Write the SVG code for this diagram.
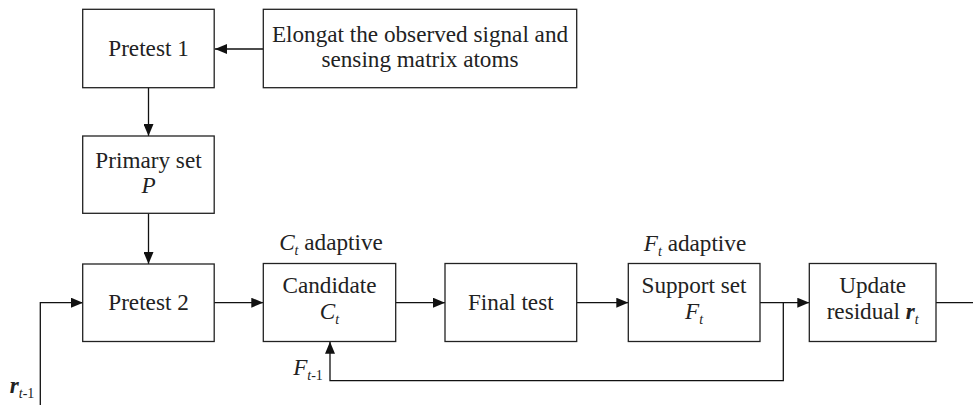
<svg xmlns="http://www.w3.org/2000/svg" width="973" height="405" viewBox="0 0 973 405">
<style>
.box{fill:#fff;stroke:#222;stroke-width:1.3}
.ln{fill:none;stroke:#111;stroke-width:1.3}
text{font-family:'Liberation Serif','DejaVu Serif',serif;font-size:23.2px;fill:#222;text-anchor:middle}
.it{font-style:italic}
.bi{font-style:italic;font-weight:bold}
.sub{font-size:14px;font-style:italic}
.up{font-style:normal}
</style>
<defs>
<marker id="ah" viewBox="0 0 12 10" refX="12" refY="5" markerWidth="12" markerHeight="10" markerUnits="userSpaceOnUse" orient="auto">
<path d="M0,0 L12,5 L0,10 z" fill="#111"/>
</marker>
</defs>
<g id="connectors">
<path class="ln" d="M263.3,49 H215" marker-end="url(#ah)"/>
<path class="ln" d="M148.5,87.7 V136" marker-end="url(#ah)"/>
<path class="ln" d="M148.5,213.3 V264" marker-end="url(#ah)"/>
<path class="ln" d="M40.3,405 V302.7 H83" marker-end="url(#ah)"/>
<path class="ln" d="M214,302.7 H263.3" marker-end="url(#ah)"/>
<path class="ln" d="M395.7,302.7 H445" marker-end="url(#ah)"/>
<path class="ln" d="M576.7,302.7 H628.3" marker-end="url(#ah)"/>
<path class="ln" d="M760,302.7 H809.3" marker-end="url(#ah)"/>
<path class="ln" d="M783.3,302.7 V380.7 H330 V341.7" marker-end="url(#ah)"/>
<path class="ln" d="M936,302.7 H973"/>
<text x="308" y="375"><tspan class="it">F</tspan><tspan class="sub" dy="5">t<tspan class="up">-1</tspan></tspan></text>
<text x="22" y="393"><tspan class="bi">r</tspan><tspan class="sub" dy="5">t<tspan class="up">-1</tspan></tspan></text>
</g>
<g id="pretest1">
<rect class="box" x="82.7" y="9.3" width="131.5" height="78.4"/>
<text x="148.5" y="55.5">Pretest 1</text>
</g>
<g id="elongate">
<rect class="box" x="263.3" y="9.3" width="313.4" height="78.4"/>
<text x="420" y="41.7">Elongat the observed signal and</text>
<text x="420" y="66.7">sensing matrix atoms</text>
</g>
<g id="primary">
<rect class="box" x="82.7" y="136" width="131.5" height="77.3"/>
<text x="148.5" y="168">Primary set</text>
<text x="148.5" y="193" class="it">P</text>
</g>
<g id="pretest2">
<rect class="box" x="82.7" y="264" width="131.5" height="77.5"/>
<text x="148.5" y="309.5">Pretest 2</text>
</g>
<g id="candidate">
<rect class="box" x="263.3" y="263.5" width="132.4" height="78"/>
<text x="329.5" y="293">Candidate</text>
<text x="329.5" y="319"><tspan class="it">C</tspan><tspan class="sub" dy="5">t</tspan></text>
<text x="331" y="250"><tspan class="it">C</tspan><tspan class="sub" dy="5">t</tspan><tspan dy="-5"> adaptive</tspan></text>
</g>
<g id="finaltest">
<rect class="box" x="445" y="263.5" width="131.7" height="78"/>
<text x="510.8" y="309.5">Final test</text>
</g>
<g id="support">
<rect class="box" x="628.3" y="263.5" width="131.7" height="78"/>
<text x="694" y="293">Support set</text>
<text x="694" y="319"><tspan class="it">F</tspan><tspan class="sub" dy="5">t</tspan></text>
<text x="695" y="250.7"><tspan class="it">F</tspan><tspan class="sub" dy="5">t</tspan><tspan dy="-5"> adaptive</tspan></text>
</g>
<g id="update">
<rect class="box" x="809.3" y="263.5" width="126.7" height="78"/>
<text x="872.7" y="293">Update</text>
<text x="872.7" y="319">residual <tspan class="bi">r</tspan><tspan class="sub" dy="5">t</tspan></text>
</g>
</svg>
